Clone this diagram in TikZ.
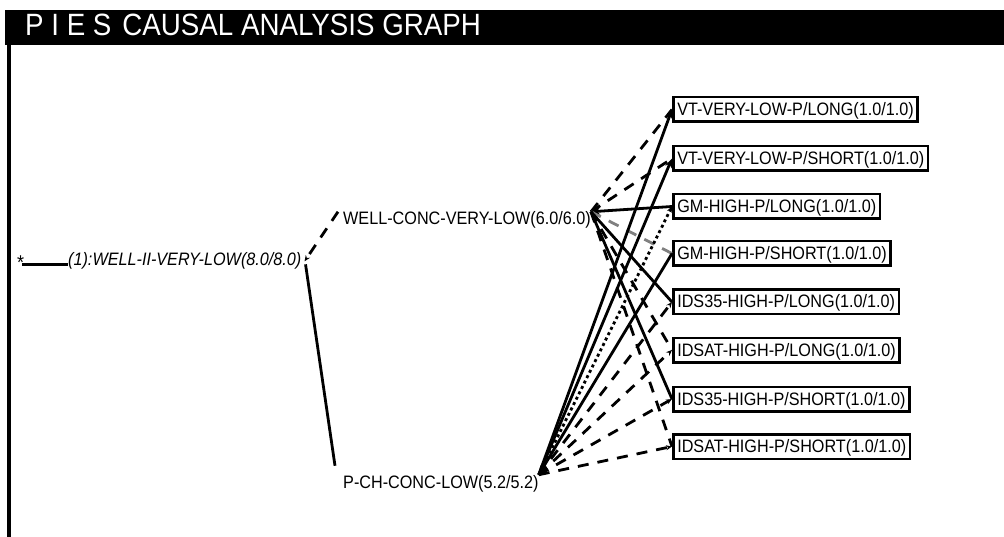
\documentclass[tikz,border=0pt]{standalone}
\usepackage{fontspec}
\setmainfont{Liberation Sans}[FakeStretch=0.9]
\usetikzlibrary{arrows.meta}
\newcommand\lblfont{\fontsize{18}{20}\selectfont}
\newcommand\ttlfont{\fontsize{30.8}{34}\selectfont}
\tikzset{
  lab/.style={inner sep=0pt, font=\lblfont},
  res/.style={draw, line width=2.5pt, inner xsep=4pt, inner ysep=0pt,
    minimum height=24.5pt, text height=13pt, text depth=1pt,
    anchor=west, font=\lblfont},
  link/.style={line width=2.8pt},
  dashlink/.style={link, dash pattern=on 11pt off 9pt},
  dotlink/.style={link, dash pattern=on 3pt off 3pt},
  tip/.style={-{Stealth[length=9pt,width=7pt]}},
  smalltip/.style={-{Stealth[length=6pt,width=5pt]}},
}
\begin{document}
\begin{tikzpicture}[x=1pt, y=-1pt]
\useasboundingbox (0,0) rectangle (1004,537);

% title bar and left rule
\fill[black] (5,10) rectangle (1004,45);
\node[anchor=base west, inner sep=0pt, text=white, font=\ttlfont] (title) at (25,36)
  {P I E S\hspace{11pt}CAUSAL ANALYSIS GRAPH};
\draw[line width=4pt] (9,45) -- (9,537);

% root and intermediate causes
\node[lab, anchor=base west, font=\fontsize{20}{22}\selectfont] (star) at (17,270) {*};
\node[lab, anchor=base west] (root) at (68,266) {\itshape (1):WELL-II-VERY-LOW(8.0/8.0)};
\node[lab, anchor=base west] (well) at (343,225) {WELL-CONC-VERY-LOW(6.0/6.0)};
\node[lab, anchor=base west] (pch) at (343,488) {P-CH-CONC-LOW(5.2/5.2)};

% observed symptoms
\node[res] (b1) at (672,109.5) {VT-VERY-LOW-P/LONG(1.0/1.0)};
\node[res] (b2) at (672,158.5) {VT-VERY-LOW-P/SHORT(1.0/1.0)};
\node[res] (b3) at (672,206.5) {GM-HIGH-P/LONG(1.0/1.0)};
\node[res] (b4) at (672,253.5) {GM-HIGH-P/SHORT(1.0/1.0)};
\node[res] (b5) at (672,302) {IDS35-HIGH-P/LONG(1.0/1.0)};
\node[res] (b6) at (672,350) {IDSAT-HIGH-P/LONG(1.0/1.0)};
\node[res] (b7) at (672,399) {IDS35-HIGH-P/SHORT(1.0/1.0)};
\node[res] (b8) at (672,446.5) {IDSAT-HIGH-P/SHORT(1.0/1.0)};

% root links
\draw[link] ([shift={(0,3)}]root.west) -- ([shift={(-2,3)}]star.east |- root.west);
\draw[dashlink, smalltip] ([shift={(-5,0)}]well.north west) -- ([shift={(3,0)}]root.east);
\draw[link] ([shift={(4,3)}]root.east) -- ([shift={(-8,-9)}]pch.north west);

% links of WELL-CONC-VERY-LOW
\draw[dashlink] (well.north east) -- (b1.west);
\draw[dashlink] (well.north east) -- (b2.west);
\draw[link, tip] (b3.west) -- (well.north east);
\draw[dashlink, gray] (well.north east) -- (b4.west);
\draw[link] (well.north east) -- (b5.west);
\draw[dashlink] (well.north east) -- (b6.west);
\draw[link] (well.north east) -- (b7.west);
\draw[dashlink] (well.north east) -- (b8.west);

% links of P-CH-CONC-LOW
\draw[link, tip] (pch.north east) -- (b1.west);
\draw[link, tip] (pch.north east) -- (b2.west);
\draw[dotlink, smalltip] (pch.north east) -- (b3.west);
\draw[link, tip] (b4.west) -- (pch.north east);
\draw[dashlink, smalltip] (pch.north east) -- (b5.west);
\draw[dashlink, smalltip] (pch.north east) -- (b6.west);
\draw[dashlink, smalltip] (pch.north east) -- (b7.west);
\draw[dashlink, smalltip] (pch.north east) -- (b8.west);
\end{tikzpicture}
\end{document}
